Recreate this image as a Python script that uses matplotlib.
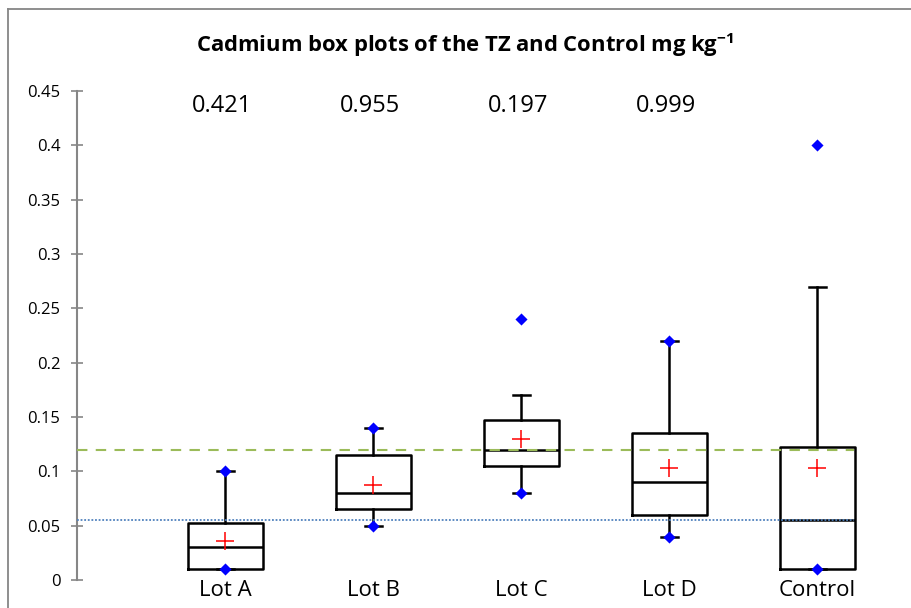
import matplotlib
matplotlib.use("Agg")
import matplotlib.pyplot as plt
from matplotlib.lines import Line2D

plt.rcParams['font.family'] = ['Open Sans', 'DejaVu Sans']
plt.rcParams['mathtext.fontset'] = 'custom'
plt.rcParams['mathtext.rm'] = 'Open Sans'
plt.rcParams['mathtext.bf'] = 'Open Sans:bold'

categories = ["Lot A", "Lot B", "Lot C", "Lot D", "Control"]
q1 = [0.01, 0.065, 0.105, 0.0595, 0.01]
median = [0.03, 0.08, 0.12, 0.09, 0.055]
q3 = [0.0525, 0.115, 0.147, 0.135, 0.122]
whisker_low = [0.01, 0.05, 0.08, 0.04, 0.01]
whisker_high = [0.10, 0.14, 0.17, 0.22, 0.27]
means = [0.036, 0.087, 0.130, 0.103, 0.103]
minimum = [0.01, 0.05, 0.08, 0.04, 0.01]
maximum = [0.10, 0.14, 0.24, 0.22, 0.40]
p_values = ["0.421", "0.955", "0.197", "0.999"]
ref_green = 0.12
ref_blue = 0.055
yticks = [0, 0.05, 0.1, 0.15, 0.2, 0.25, 0.3, 0.35, 0.4, 0.45]
ytick_labels = ["0", "0.05", "0.1", "0.15", "0.2", "0.25", "0.3", "0.35", "0.4", "0.45"]

W, H = 912, 608
fig = plt.figure(figsize=(W / 100, H / 100), dpi=100)
ax = fig.add_axes([77 / W, (H - 580) / H, 1 - 77 / W, (580 - 91) / H])

positions = list(range(1, len(categories) + 1))
stats = []
for i in range(len(categories)):
    stats.append(dict(med=median[i], q1=q1[i], q3=q3[i], whislo=whisker_low[i],
                      whishi=whisker_high[i], mean=means[i], fliers=[]))

lw = 1.8
ax.bxp(stats, positions=positions, widths=0.506, showmeans=True, showfliers=False,
       boxprops=dict(color='black', linewidth=lw),
       medianprops=dict(color='black', linewidth=lw),
       whiskerprops=dict(color='black', linewidth=lw),
       capprops=dict(color='black', linewidth=lw),
       capwidths=0.115,
       meanprops=dict(marker='+', markeredgecolor='red', markersize=13, markeredgewidth=1.1, linestyle='none'),
       manage_ticks=False)

ax.scatter(positions, minimum, marker='D', s=38, color='#0000ff', zorder=4, linewidths=0)
ax.scatter(positions, maximum, marker='D', s=38, color='#0000ff', zorder=4, linewidths=0)

ax.plot([0, 5.25], [ref_green, ref_green], color='#9bbb59', linestyle=(0, (5, 4)), linewidth=1.5, zorder=5)
ax.plot([0, 5.25], [ref_blue, ref_blue], color='#4f81bd', linestyle=(0, (1, 1)), linewidth=1.3, zorder=5)

ax.set_xlim(0, 5.64)
ax.set_ylim(0, 0.45)
ax.set_yticks(yticks)
ax.set_yticklabels(ytick_labels, fontsize=12)
ax.tick_params(axis='y', direction='inout', length=8, width=1.2, color='#868686', pad=8)
ax.set_xticks([])
for s in ['top', 'right', 'bottom']:
    ax.spines[s].set_visible(False)
ax.spines['left'].set_color('#868686')
ax.spines['left'].set_linewidth(1.5)

for p, lab in zip(positions, categories):
    ax.text(p, -0.0098, lab, ha='center', va='center', fontsize=16, clip_on=False)
for p, v in zip(positions, p_values):
    ax.text(p - 0.02, 0.436, v, ha='center', va='center', fontsize=17)

fig.text(465 / W, 1 - 45 / H, r'Cadmium box plots of the TZ and Control mg kg$^{\mathbf{-1}}$',
         ha='center', va='center', fontsize=15.8, fontweight='bold')

fig.add_artist(Line2D([8.5 / W, 8.5 / W], [0, 1 - 8.5 / H], color='#868686', linewidth=1.3, transform=fig.transFigure))
fig.add_artist(Line2D([8.5 / W, 1], [1 - 8.5 / H, 1 - 8.5 / H], color='#868686', linewidth=1.3, transform=fig.transFigure))

fig.savefig('out.png', dpi=100)
